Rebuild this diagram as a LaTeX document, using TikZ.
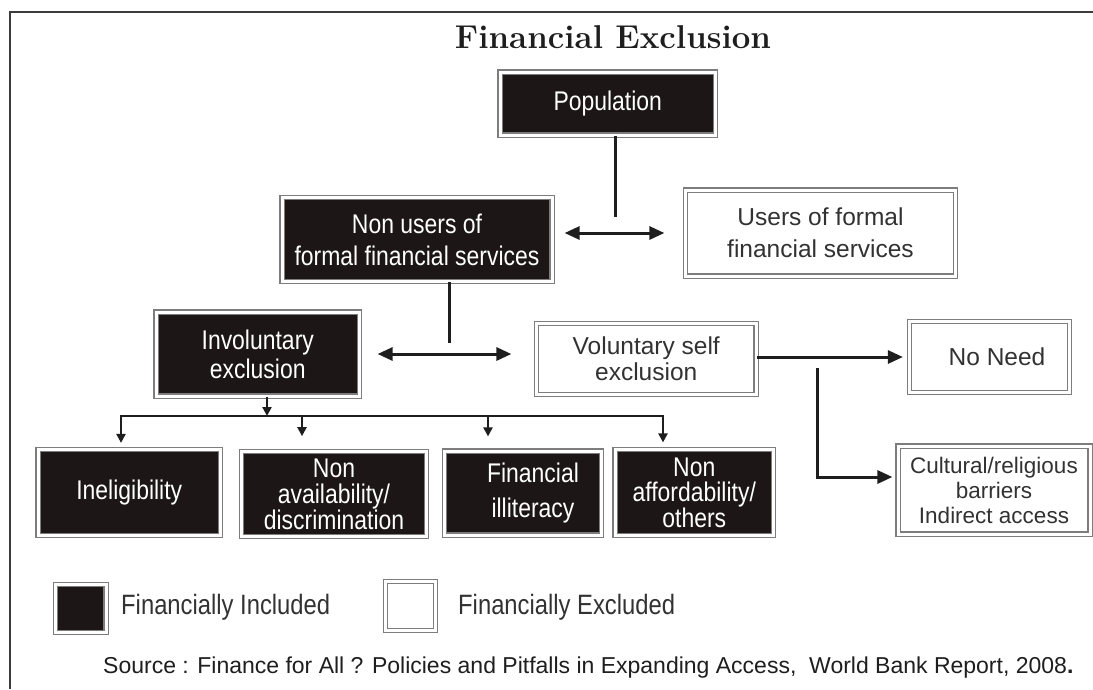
\documentclass[tikz,border=0pt]{standalone}
\usepackage{fontspec}
\usetikzlibrary{arrows.meta,calc}
\newfontfamily\boxfont[FakeStretch=0.85]{Liberation Sans}
\newfontfamily\plainfont{Liberation Sans}
\definecolor{boxblack}{RGB}{28,22,22}
\definecolor{framegray}{RGB}{125,125,125}
\definecolor{textgray}{RGB}{50,50,50}
\definecolor{linedark}{RGB}{30,30,30}
\definecolor{borderdark}{RGB}{60,60,60}
\begin{document}
\begin{tikzpicture}[x=1pt,y=-1pt,
  incl/.style={draw=framegray, line width=1.2pt, double=white, double distance=3pt, fill=boxblack, text=white, align=center, inner sep=0pt, font=\boxfont\fontsize{27}{29}\selectfont},
  excl/.style={draw=framegray, line width=1.2pt, double=white, double distance=3pt, fill=white, text=textgray, align=center, inner sep=0pt, font=\plainfont\fontsize{24.5}{30}\selectfont},
  conn/.style={draw=linedark, line width=3pt},
  biarrow/.style={conn, {Triangle[length=15pt,width=13pt]}-{Triangle[length=15pt,width=13pt]}},
  toarrow/.style={conn, -{Triangle[length=15pt,width=13pt]}},
  smallarrow/.style={draw=linedark, line width=2.2pt, -{Triangle[length=9pt,width=9pt]}},
  plaintext/.style={inner sep=0pt, anchor=west}
]
\useasboundingbox (0,0) rectangle (1093,689);
\draw[line width=2.5pt, draw=borderdark] (10,689) -- (10,12) -- (1093,12);

\node[font=\fontsize{33}{40}\selectfont\bfseries, text=linedark, anchor=base, inner sep=0pt] (title) at (613,48) {Financial Exclusion};

\node[incl, minimum width=215.5pt, minimum height=63pt] (pop) at (607.75,103.5) {Population};
\node[incl, minimum width=270pt, minimum height=84pt, font=\boxfont\fontsize{27}{32}\selectfont] (nonusers) at (417,239.5) {Non users of\\formal financial services};
\node[excl, minimum width=270pt, minimum height=86pt, font=\plainfont\fontsize{24.5}{32}\selectfont] (users) at (820.5,233) {Users of formal\\financial services};
\node[incl, minimum width=203.5pt, minimum height=84pt] (invol) at (257.75,354) {Involuntary\\exclusion};
\node[excl, minimum width=219.5pt, minimum height=71pt, font=\plainfont\fontsize{24.5}{26}\selectfont] (volun) at (646.25,359) {Voluntary self\\exclusion};
\node[excl, minimum width=160pt, minimum height=71pt] (noneed) at (989.5,357) {\hspace*{15pt}No Need};
\node[excl, minimum width=192pt, minimum height=88pt, font=\plainfont\fontsize{22.5}{25}\selectfont] (cultural) at (994,490) {Cultural/religious\\barriers\\Indirect access};

\node[incl, minimum width=182.5pt, minimum height=86pt] (inel) at (129.25,492.5) {Ineligibility};
\node[incl, minimum width=185pt, minimum height=85.5pt, font=\boxfont\fontsize{27}{26}\selectfont] (nonavail) at (334,494) {Non\\availability/\\discrimination};
\node[incl, minimum width=157pt, minimum height=84pt, font=\boxfont\fontsize{27}{35}\selectfont] (finill) at (523,493) {\hspace*{20pt}Financial\\\hspace*{20pt}illiteracy};
\node[incl, minimum width=158.5pt, minimum height=86pt, font=\boxfont\fontsize{27}{25}\selectfont] (nonafford) at (694.25,492.5) {Non\\affordability/\\others};

\node[incl, minimum width=50.5pt, minimum height=48pt] (leginc) at (80.75,608.5) {};
\node[excl, minimum width=50pt, minimum height=48.5pt] (legexc) at (410.5,606) {};
\node[plaintext, text=textgray, font=\boxfont\fontsize{28}{30}\selectfont] (legincl) at (121,607) {Financially Included};
\node[plaintext, text=textgray, font=\boxfont\fontsize{28}{30}\selectfont] (legexcl) at (458,607) {Financially Excluded};
\node[plaintext, text=linedark, font=\plainfont\fontsize{23}{28}\selectfont] (source) at (103,668) {Source : Finance for All ? Policies and Pitfalls in Expanding Access,\ \ World Bank Report, 2008\textbf{.}};

% connectors
\coordinate (j1) at (615,217);
\draw[conn] (pop.south -| j1) -- (j1);
\draw[biarrow] ($(nonusers.east |- users.west)+(12,0)$) -- ($(users.west)+(-20.5,0)$);

\coordinate (j2) at (449,343);
\draw[conn] (nonusers.south -| j2) -- (j2);
\draw[biarrow] ($(invol.east)+(17.5,0)$) -- ($(volun.west |- invol.east)+(-24.5,0)$);

\draw[toarrow] (volun.east |- noneed.west) -- ($(noneed.west)+(-6,0)$);
\coordinate (j3) at (817,368);
\draw[toarrow] (j3) |- ($(cultural.west)+(-5,-13)$);

\coordinate (bus) at (267,416);
\draw[smallarrow] (invol.south -| bus) -- (bus);
\draw[smallarrow] (bus) -| ($(inel.north)+(-8.25,-6)$);
\draw[smallarrow] (bus) -| ($(nonavail.north)+(-32,-14.5)$);
\draw[smallarrow] (bus) -| ($(finill.north)+(-35,-14)$);
\draw[smallarrow] (bus) -| ($(nonafford.north)+(-31.25,-6.5)$);
\end{tikzpicture}
\end{document}
